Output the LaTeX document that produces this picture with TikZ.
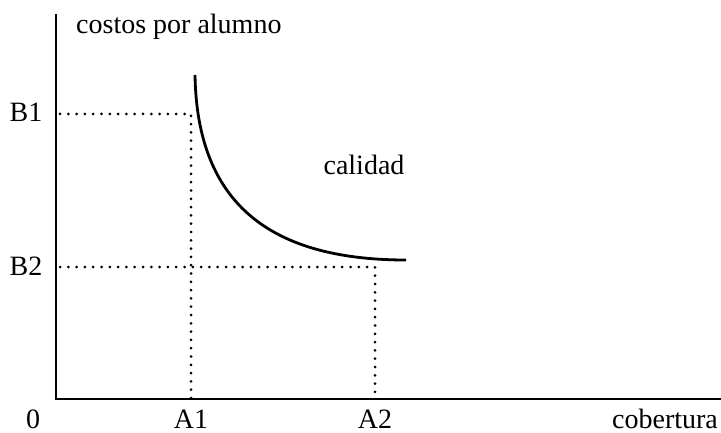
\documentclass[tikz,border=0pt]{standalone}
\usepackage{fontspec}
\setmainfont{Liberation Serif}
\usepackage{tikz}

\begin{document}
\begin{tikzpicture}[x=1pt, y=-1pt,
  axis/.style={line width=2.7pt},
  guide/.style={line width=3pt, line cap=round, dash pattern=on 0pt off 8.3pt},
  curva/.style={line width=2.8pt},
  lbl/.style={inner sep=0pt, anchor=base, font=\fontsize{28}{33}\selectfont}]
\useasboundingbox (0,0) rectangle (721,433);

\coordinate (o) at (56,399);
\coordinate (ytop) at (56,14);
\coordinate (xend) at (721,399);
\coordinate (b1) at (60,114);
\coordinate (b2) at (60,267);
\coordinate (p1) at (191,114);
\coordinate (p2) at (375,267);
\coordinate (a1) at (191,399);
\coordinate (a2) at (375,399);
\coordinate (cstart) at (195,75);
\coordinate (cend) at (406,260);

\draw[axis] (ytop) -- (o) -- (xend);

\draw[guide] (b1) -- (p1) -- (a1);
\draw[guide] (b2) -- (p2) -- (a2);

\draw[curva] (cstart) .. controls (197,200) and (266,260) .. (cend);

\node[lbl, anchor=base west] (ylab) at (76,34) {costos por alumno};
\node[lbl] (lb1) at (26,122) {B1};
\node[lbl] (lb2) at (26,275) {B2};
\node[lbl] (zero) at (33,428) {0};
\node[lbl] (la1) at (191,428) {A1};
\node[lbl] (la2) at (375,428) {A2};
\node[lbl] (xlab) at (665,428) {cobertura};
\node[lbl] (cal) at (364,175) {calidad};
\end{tikzpicture}
\end{document}
